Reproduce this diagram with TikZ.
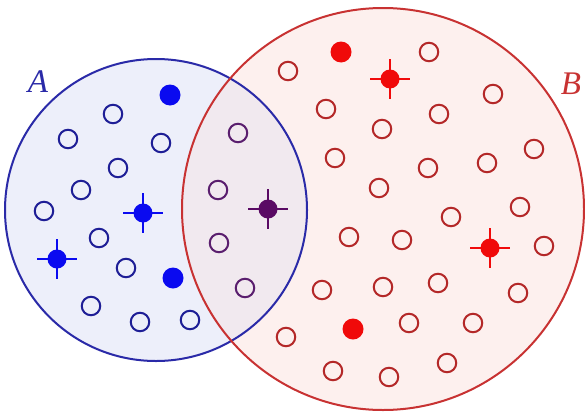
\documentclass[tikz,border=0pt]{standalone}
\usepackage{fontspec}
\newfontfamily\lblfont{Liberation Serif}
\usetikzlibrary{calc}
\definecolor{blueline}{HTML}{2A2AA8}
\definecolor{bluefill}{HTML}{EDEFFA}
\definecolor{redline}{HTML}{C83232}
\definecolor{redfill}{HTML}{FDF0EE}
\definecolor{midfill}{HTML}{F1E9EF}
\definecolor{bluedot}{HTML}{0A0AF0}
\definecolor{bluering}{HTML}{1E1E96}
\definecolor{reddot}{HTML}{F00A0A}
\definecolor{redring}{HTML}{B42828}
\definecolor{purpdot}{HTML}{5A0A64}
\definecolor{purpring}{HTML}{5A1E6E}
\begin{document}
\begin{tikzpicture}[x=1pt,y=-1pt,
  ring/.style={circle,draw,line width=2pt,minimum size=18.5pt,inner sep=0pt},
  dot/.style={circle,fill,minimum size=21pt,inner sep=0pt},
  cdot/.style={circle,fill,minimum size=19pt,inner sep=0pt},
  arm/.style={line width=1.8pt},
  setlbl/.style={font=\lblfont\fontsize{33}{33}\selectfont\itshape}]
\useasboundingbox (0,0) rectangle (585,415);
% regions
\fill[bluefill] (156,210) circle (151);
\fill[redfill] (383,209) circle (201);
\begin{scope}
  \clip (156,210) circle (151);
  \fill[midfill] (383,209) circle (201);
\end{scope}
\draw[blueline,line width=2pt] (156,210) circle (151);
\draw[redline,line width=2pt] (383,209) circle (201);
\node[setlbl,text=blueline] (lA) at (38,82) {A};
\node[setlbl,text=redline] (lB) at (571,84) {B};
% blue rings
\foreach \p [count=\i] in {(113,114),(68,139),(161,143),(118,168),(81,190),(44,211),(99,238),(126,268),(91,306),(140,322),(190,320)}
  \node[ring,draw=bluering] (b\i) at \p {};
\node[dot,bluedot] (bf1) at (170,95) {};
\node[dot,bluedot] (bf2) at (173,278) {};
% intersection rings
\foreach \p [count=\i] in {(238,133),(218,190),(219,243),(245,288)}
  \node[ring,draw=purpring] (m\i) at \p {};
% red rings
\foreach \p [count=\i] in {(288,71),(429,52),(493,94),(326,109),(439,114),(382,129),(335,158),(428,168),(487,163),(534,149),(379,188),(520,207),(451,217),(349,237),(402,240),(544,246),(322,290),(383,287),(438,283),(518,293),(409,323),(473,323),(286,337),(333,371),(389,377),(447,363)}
  \node[ring,draw=redring] (r\i) at \p {};
\node[dot,reddot] (rf1) at (341,52) {};
\node[dot,reddot] (rf2) at (353,329) {};
% crossed dots
\foreach \nm/\p/\c in {cb1/{(143,213)}/bluedot,cb2/{(57,259)}/bluedot,cm1/{(268,209)}/purpdot,cr1/{(390,79)}/reddot,cr2/{(490,248)}/reddot}{
  \node[cdot,\c] (\nm) at \p {};
  \draw[arm,\c] ($(\nm)+(-20,0)$) -- ($(\nm)+(20,0)$);
  \draw[arm,\c] ($(\nm)+(0,-20)$) -- ($(\nm)+(0,20)$);
}
\end{tikzpicture}
\end{document}
